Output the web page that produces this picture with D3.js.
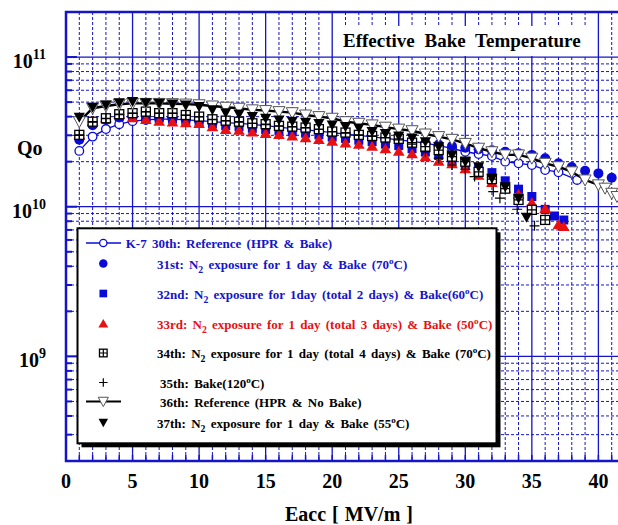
<!DOCTYPE html>
<html>
<head>
<meta charset="utf-8">
<script src="https://cdn.jsdelivr.net/npm/d3@7"></script>
<style>
body { margin: 0; background: #fff; }
svg { display: block; font-family: "Liberation Serif", "Times New Roman", serif; font-weight: bold; }
</style>
</head>
<body>
<div id="chart"></div>
<script>
// Qo vs Eacc, K-7 cavity, runs 30th..37th
var e30 = [1,2,3,4,5,6,7,8,9,10,11,12,13,14,15,16,17,18,19,20,21,22,23,24,25,26,27,28,29,30,31,32,33,34,35,36,37,38.4]
var q30 = [2.36e10,2.94e10,3.30e10,3.56e10,3.73e10,3.80e10,3.85e10,3.85e10,3.80e10,3.76e10,3.70e10,3.65e10,3.60e10,3.55e10,3.48e10,3.40e10,3.33e10,3.26e10,3.20e10,3.13e10,3.06e10,3.00e10,2.93e10,2.86e10,2.80e10,2.73e10,2.66e10,2.56e10,2.45e10,2.33e10,2.25e10,2.18e10,2.00e10,1.95e10,1.90e10,1.76e10,1.70e10,1.51e10]

var e31 = [1,2,3,4,5,6,7,8,9,10,11,12,13,14,15,16,17,18,19,20,21,22,23,24,25,26,27,28,29,30,31,32,33,34,35,36,37,38,39,40,41]
var q31 = [2.80e10,3.50e10,3.80e10,3.95e10,4.00e10,4.00e10,3.95e10,3.90e10,3.85e10,3.80e10,3.72e10,3.65e10,3.60e10,3.52e10,3.45e10,3.38e10,3.32e10,3.25e10,3.18e10,3.10e10,3.04e10,2.97e10,2.90e10,2.84e10,2.78e10,2.72e10,2.66e10,2.60e10,2.54e10,2.48e10,2.42e10,2.38e10,2.33e10,2.28e10,2.22e10,2.11e10,1.95e10,1.84e10,1.74e10,1.67e10,1.56e10]

var e32 = [1,2,3,4,5,6,7,8,9,10,11,12,13,14,15,16,17,18,19,20,21,22,23,24,25,26,27,28,29,30,31,32,33,34,35,36,36.7,37.4]
var q32 = [2.95e10,3.60e10,3.85e10,4.00e10,4.00e10,3.95e10,3.90e10,3.85e10,3.78e10,3.70e10,3.58e10,3.48e10,3.42e10,3.34e10,3.28e10,3.22e10,3.16e10,3.10e10,3.02e10,2.92e10,2.86e10,2.78e10,2.72e10,2.62e10,2.56e10,2.44e10,2.32e10,2.20e10,2.05e10,1.90e10,1.80e10,1.69e10,1.49e10,1.31e10,1.17e10,9.6e9,8.67e9,8.15e9]

var e33 = [1,2,3,4,5,6,7,8,9,10,11,12,13,14,15,16,17,18,19,20,21,22,23,24,25,26,27,28,29,30,31,32,33,34,35,36,37,37.4]
var q33 = [3.00e10,3.70e10,3.90e10,4.10e10,3.90e10,3.80e10,3.70e10,3.66e10,3.61e10,3.57e10,3.40e10,3.26e10,3.22e10,3.13e10,3.06e10,3.02e10,2.94e10,2.87e10,2.79e10,2.72e10,2.65e10,2.59e10,2.52e10,2.42e10,2.33e10,2.24e10,2.14e10,2.00e10,1.92e10,1.78e10,1.61e10,1.44e10,1.32e10,1.20e10,1.06e10,9.66e9,7.55e9,7.33e9]

var e34 = [1,2,3,4,5,6,7,8,9,10,11,12,13,14,15,16,17,18,19,20,21,22,23,24,25,26,27,28,29,30,31,32,33,34,35,36]
var q34 = [3.02e10,3.70e10,3.90e10,4.15e10,4.22e10,4.32e10,4.22e10,4.22e10,4.10e10,4.00e10,3.84e10,3.76e10,3.70e10,3.61e10,3.56e10,3.47e10,3.43e10,3.38e10,3.30e10,3.18e10,3.13e10,3.02e10,2.97e10,2.90e10,2.84e10,2.68e10,2.52e10,2.39e10,2.16e10,2.00e10,1.71e10,1.53e10,1.32e10,1.11e10,9.53e9,8.16e9]

var e35 = [1,2,3,4,5,6,7,8,9,10,11,12,13,14,15,16,17,18,19,20,21,22,23,24,25,26,27,28,29,30,30.7,32.1,32.6,33.9,35.2]
var q35 = [3.00e10,3.68e10,3.88e10,4.12e10,4.20e10,4.30e10,4.20e10,4.20e10,4.08e10,3.98e10,3.82e10,3.74e10,3.68e10,3.60e10,3.54e10,3.45e10,3.41e10,3.36e10,3.28e10,3.16e10,3.10e10,3.00e10,2.95e10,2.88e10,2.80e10,2.62e10,2.33e10,2.11e10,1.90e10,1.78e10,1.59e10,1.26e10,1.14e10,9.62e9,7.45e9]

var e36 = [1,2,3,4,5,6,7,8,9,10,11,12,13,14,15,16,17,18,19,20,21,22,23,24,25,26,27,28,29,30,31,32,33,34,35,36,37,38,39,40,40.5,41,41.4]
var q36 = [3.70e10,4.55e10,4.71e10,4.84e10,4.90e10,4.90e10,4.90e10,4.88e10,4.85e10,4.80e10,4.71e10,4.62e10,4.55e10,4.44e10,4.39e10,4.32e10,4.25e10,4.10e10,4.00e10,3.90e10,3.70e10,3.61e10,3.52e10,3.40e10,3.30e10,3.22e10,3.06e10,2.94e10,2.82e10,2.65e10,2.46e10,2.33e10,2.22e10,2.22e10,2.11e10,1.95e10,1.85e10,1.71e10,1.51e10,1.40e10,1.33e10,1.23e10,1.17e10]

var e37 = [1,2,3,4,5,6,7,8,9,10,11,12,13,14,15,16,17,18,19,20,21,22,23,24,25,26,27,28,29,30,31,32,33,34,34.6]
var q37 = [3.96e10,4.62e10,4.79e10,4.96e10,5.04e10,4.96e10,4.91e10,4.86e10,4.79e10,4.67e10,4.44e10,4.25e10,4.17e10,4.00e10,3.90e10,3.80e10,3.73e10,3.67e10,3.60e10,3.52e10,3.44e10,3.36e10,3.18e10,3.08e10,2.97e10,2.88e10,2.72e10,2.52e10,2.22e10,2.00e10,1.85e10,1.55e10,1.36e10,1.14e10,8.51e9]

var xLabels = [0,5,10,15,20,25,30,35,40]
var yExponents = [11,10,9]
var legendLabels = [
  "K-7 30th: Reference (HPR & Bake)",
  "31st: N_2 exposure for 1 day & Bake (70^oC)",
  "32nd: N_2 exposure for 1day (total 2 days) & Bake(60^oC)",
  "33rd: N_2 exposure for 1 day (total 3 days) & Bake (50^oC)",
  "34th: N_2 exposure for 1 day (total 4 days) & Bake (70^oC)",
  "35th: Bake(120^oC)",
  "36th: Reference (HPR & No Bake)",
  "37th: N_2 exposure for 1 day & Bake (55^oC)"
]

var blue = "#1414c8"
var markBlue = "#0a0ad8"
var red = "#e81010"

var pLeft = 66, pRight = 618, pTop = 12, pBottom = 461
var svg = d3.select("#chart").append("svg")
    .attr("width", 618)
    .attr("height", 525)

var x = d3.scaleLinear().domain([0, 40]).range([pLeft, 598.4])
var y = d3.scaleLog().domain([2e8, 2e11]).range([pBottom, pTop])

// grid
var grid = svg.append("g")
d3.range(1, 42).forEach(function(v) {
    grid.append("line")
        .attr("x1", x(v)).attr("x2", x(v))
        .attr("y1", pTop).attr("y2", pBottom)
        .attr("stroke", blue)
        .attr("stroke-width", v % 5 == 0 ? 1.3 : 1)
        .attr("stroke-dasharray", v % 5 == 0 ? null : "3,2")
})
var yGrid = []
;[8, 9, 10, 11].forEach(function(d) {
    for (var m = 1; m <= 9; m++) {
        var v = m * Math.pow(10, d)
        if (v >= 2e8 && v <= 2e11) yGrid.push({v: v, major: m == 1})
    }
})
yGrid.forEach(function(t) {
    grid.append("line")
        .attr("x1", pLeft).attr("x2", pRight)
        .attr("y1", y(t.v)).attr("y2", y(t.v))
        .attr("stroke", blue)
        .attr("stroke-width", t.major ? 1.3 : 1)
        .attr("stroke-dasharray", t.major ? null : "3,2")
    grid.append("line")
        .attr("x1", pLeft).attr("x2", pLeft + (t.major ? 11 : 6))
        .attr("y1", y(t.v)).attr("y2", y(t.v))
        .attr("stroke", blue).attr("stroke-width", 2)
})
d3.range(1, 42).forEach(function(v) {
    grid.append("line")
        .attr("x1", x(v)).attr("x2", x(v))
        .attr("y1", pBottom).attr("y2", pBottom - 6)
        .attr("stroke", blue).attr("stroke-width", 1.5)
})

// frame
svg.append("path")
    .attr("d", `M${pRight},${pTop}H${pLeft}V${pBottom}H${pRight}`)
    .attr("fill", "none").attr("stroke", blue).attr("stroke-width", 2.5)

// title
svg.append("rect").attr("x", 338).attr("y", 26).attr("width", 248).attr("height", 30).attr("fill", "#fff")
svg.append("text").attr("x", 343).attr("y", 47)
    .attr("font-size", 19).attr("word-spacing", 5)
    .text("Effective Bake Temperature")

// k scales the marker (legend markers are drawn a little smaller)
function drawSymbol(sel, type, k) {
    k = k || 1
    if (type == "openCircle") {
        sel.append("circle").attr("r", 4.3 * k).attr("fill", "#fff").attr("stroke", markBlue).attr("stroke-width", 1.3)
    } else if (type == "dot") {
        sel.append("circle").attr("r", 5 * k).attr("fill", markBlue)
    } else if (type == "square") {
        sel.append("rect").attr("x", -4.5 * k).attr("y", -4.5 * k).attr("width", 9 * k).attr("height", 9 * k).attr("fill", markBlue)
    } else if (type == "tri") {
        sel.append("path").attr("d", `M0,${-6 * k}L${5.8 * k},${4 * k}L${-5.8 * k},${4 * k}Z`).attr("fill", red)
    } else if (type == "boxplus") {
        var h = 4.5 * k
        sel.append("rect").attr("x", -h).attr("y", -h).attr("width", 2 * h).attr("height", 2 * h)
            .attr("fill", "#fff").attr("stroke", "#000").attr("stroke-width", 1.3)
        sel.append("path").attr("d", `M${-h},0H${h}M0,${-h}V${h}`).attr("stroke", "#000").attr("stroke-width", 1.2)
    } else if (type == "plus") {
        sel.append("path").attr("d", `M${-5 * k},0H${5 * k}M0,${-5 * k}V${5 * k}`).attr("stroke", "#000").attr("stroke-width", 1.2)
    } else if (type == "openTri") {
        sel.append("path").attr("d", `M${-6 * k},${-5 * k}L${6 * k},${-5 * k}L0,${6 * k}Z`).attr("fill", "#fff").attr("stroke", "#555").attr("stroke-width", 1)
    } else if (type == "downTri") {
        sel.append("path").attr("d", `M${-5.6 * k},${-4.5 * k}L${5.6 * k},${-4.5 * k}L0,${5.5 * k}Z`).attr("fill", "#000")
    }
}

var plot = svg.append("g")
svg.append("clipPath").attr("id", "clip").append("rect")
    .attr("x", pLeft).attr("y", pTop).attr("width", pRight - pLeft).attr("height", pBottom - pTop)
plot.attr("clip-path", "url(#clip)")

function addMarks(xs, qs, type) {
    plot.append("g").selectAll("g")
        .data(d3.zip(xs, qs))
        .join("g")
        .attr("transform", d => `translate(${x(d[0])},${y(d[1])})`)
        .call(drawSymbol, type)
}
var line = d3.line().x(d => x(d[0])).y(d => y(d[1]))

plot.append("path").attr("d", line(d3.zip(e30, q30)))
    .attr("fill", "none").attr("stroke", markBlue).attr("stroke-width", 1.3)
addMarks(e30, q30, "openCircle")
addMarks(e31, q31, "dot")
addMarks(e32, q32, "square")
addMarks(e33, q33, "tri")
addMarks(e34, q34, "boxplus")
addMarks(e35, q35, "plus")
plot.append("path").attr("d", line(d3.zip(e36, q36)))
    .attr("fill", "none").attr("stroke", "#000").attr("stroke-width", 2.4)
addMarks(e36, q36, "openTri")
addMarks(e37, q37, "downTri")

// axis labels
svg.append("g").selectAll("text")
    .data(xLabels)
    .join("text")
    .attr("x", d => x(d)).attr("y", 488)
    .attr("text-anchor", "middle").attr("font-size", 20)
    .text(d => d)

yExponents.forEach(function(e) {
    var t = svg.append("text")
        .attr("x", 46).attr("y", y(Math.pow(10, e)) + 11)
        .attr("text-anchor", "end").attr("font-size", 20)
    t.append("tspan").text("10")
    t.append("tspan").attr("dy", -9).attr("font-size", 14).text(e)
})
svg.append("text").attr("x", 17).attr("y", 155).attr("font-size", 20).text("Qo")
svg.append("text").attr("x", 349).attr("y", 521).attr("text-anchor", "middle")
    .attr("font-size", 20).attr("word-spacing", 1).text("Eacc [ MV/m ]")

// legend
var lg = svg.append("g")
lg.append("rect").attr("x", 81.5).attr("y", 232.3).attr("width", 419).attr("height", 215).attr("fill", "#000")
lg.append("rect").attr("x", 77.5).attr("y", 228.3).attr("width", 419).attr("height", 215)
    .attr("fill", "#fff").attr("stroke", "#000").attr("stroke-width", 2)

var legendTypes = ["openCircle", "dot", "square", "tri", "boxplus", "plus", "openTri", "downTri"]
var legendColors = [blue, blue, blue, red, "#000", "#000", "#000", "#000"]
var legendY = [243, 263.5, 293.5, 324, 353, 382.5, 401.5, 422.5]
var legendX = [125.7, 157, 157, 157, 157, 160, 160, 157]

function richText(t, str) {
    var parts = str.split(/(_2|\^o)/)
    var shift = 0
    parts.forEach(function(p) {
        if (p == "") return
        if (p == "_2") {
            t.append("tspan").attr("dy", 4 - shift).attr("font-size", "0.75em").text("2")
            shift = 4
        } else if (p == "^o") {
            t.append("tspan").attr("dy", -5 - shift).attr("font-size", "0.7em").text("o")
            shift = -5
        } else {
            t.append("tspan").attr("dy", -shift).text(p)
            shift = 0
        }
    })
}

legendLabels.forEach(function(lab, i) {
    if (i == 0 || i == 6) {
        lg.append("line").attr("x1", 86).attr("x2", 121)
            .attr("y1", legendY[i]).attr("y2", legendY[i])
            .attr("stroke", i == 0 ? markBlue : "#000").attr("stroke-width", i == 0 ? 1.3 : 2)
    }
    var m = lg.append("g").attr("transform", `translate(103.3,${legendY[i]})`)
    drawSymbol(m, legendTypes[i], 0.85)
    var t = lg.append("text")
        .attr("x", legendX[i]).attr("y", legendY[i] + 5)
        .attr("font-size", 13).attr("word-spacing", 2)
        .attr("fill", legendColors[i])
    richText(t, lab)
})
</script>
</body>
</html>
